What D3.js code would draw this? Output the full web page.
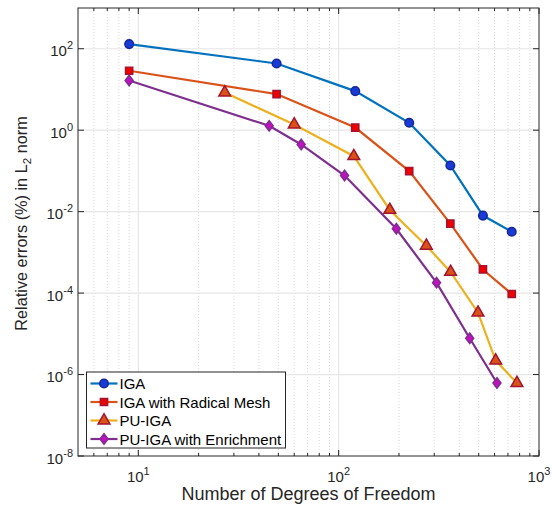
<!DOCTYPE html>
<html>
<head>
<meta charset="utf-8">
<script src="https://cdn.jsdelivr.net/npm/d3@7"></script>
<style>
  body { margin: 0; background: #fff; }
  svg { font-family: "Liberation Sans", Arial, Helvetica, sans-serif; }
</style>
</head>
<body>
<svg id="chart" width="552" height="508"></svg>
<script>
// values
var igaX = [9, 49, 121, 225, 361, 525, 731];
var igaY = [130, 43.5, 9.1, 1.52, 0.136, 0.008, 0.0032];
var radX = [9, 49, 121, 225, 361, 525, 731];
var radY = [28.8, 7.7, 1.16, 0.099, 0.0051, 3.8e-4, 9.5e-5];
var puX = [27, 60, 119, 180, 274, 362, 496, 608, 776];
var puY = [8.4, 1.38, 0.23, 0.011, 1.45e-3, 3.3e-4, 3.3e-5, 2.2e-6, 6.2e-7];
var enrX = [9, 45, 65, 107, 194, 308, 451, 617];
var enrY = [16.6, 1.28, 0.446, 0.077, 0.0038, 1.8e-4, 7.8e-6, 6.2e-7];
var xTickExp = [1, 2, 3];
var yTickExp = [2, 0, -2, -4, -6, -8];

var series = [
  {name: "IGA", xs: igaX, ys: igaY, line: "#0072BD", fill: "#1a3ad6", edge: "#14279a", shape: "circle"},
  {name: "IGA with Radical Mesh", xs: radX, ys: radY, line: "#D95319", fill: "#f00000", edge: "#A2142F", shape: "square"},
  {name: "PU-IGA", xs: puX, ys: puY, line: "#EDB120", fill: "#D95319", edge: "#A2142F", shape: "triangle"},
  {name: "PU-IGA with Enrichment", xs: enrX, ys: enrY, line: "#7E2F8E", fill: "#c010c0", edge: "#7E2F8E", shape: "diamond"}
];

var svg = d3.select("#chart");
var pL = 78, pR = 539, pT = 8, pB = 456;

var x = d3.scaleLog().domain([5, 1000]).range([pL, pR]);
var y = d3.scaleLog().domain([1e-8, 1e3]).range([pB, pT]);

// grid
var g = svg.append("g");
var minorX = [];
[1, 10, 100].forEach(function (d) {
  for (var k = 2; k <= 9; k++) { var v = d * k; if (v > 5 && v < 1000) minorX.push(v); }
});
g.selectAll("line.mx").data(minorX).enter().append("line")
  .attr("x1", d => x(d)).attr("x2", d => x(d)).attr("y1", pT).attr("y2", pB)
  .attr("stroke", "#d0d0d0").attr("stroke-width", 0.8).attr("stroke-dasharray", "1,2");
g.selectAll("line.gx").data(xTickExp.slice(0, 2)).enter().append("line")
  .attr("x1", d => x(Math.pow(10, d))).attr("x2", d => x(Math.pow(10, d)))
  .attr("y1", pT).attr("y2", pB)
  .attr("stroke", "#e6e6e6").attr("stroke-width", 1.2);
g.selectAll("line.gy").data(yTickExp.slice(0, 5)).enter().append("line")
  .attr("y1", d => y(Math.pow(10, d))).attr("y2", d => y(Math.pow(10, d)))
  .attr("x1", pL).attr("x2", pR)
  .attr("stroke", "#e6e6e6").attr("stroke-width", 1.2);

// series
var line = d3.line().x(d => x(d[0])).y(d => y(d[1]));
var wideDiamond = {
  draw: function (ctx, size) {
    var r = Math.sqrt(size) / 2;
    ctx.moveTo(0, -r * 1.3); ctx.lineTo(r, 0); ctx.lineTo(0, r * 1.3); ctx.lineTo(-r, 0); ctx.closePath();
  }
};
var symbols = {
  circle: d3.symbol().type(d3.symbolCircle).size(58),
  square: d3.symbol().type(d3.symbolSquare).size(52),
  triangle: d3.symbol().type(d3.symbolTriangle).size(60),
  diamond: d3.symbol().type(wideDiamond).size(64)
};

series.forEach(function (s) {
  var pts = s.xs.map((v, i) => [v, s.ys[i]]);
  svg.append("path").datum(pts).attr("d", line)
    .attr("fill", "none").attr("stroke", s.line).attr("stroke-width", 2.2);
  svg.selectAll(null).data(pts).enter().append("path")
    .attr("d", symbols[s.shape])
    .attr("transform", d => `translate(${x(d[0])},${y(d[1])})`)
    .attr("fill", s.fill).attr("stroke", s.edge).attr("stroke-width", 1.5);
});

// axes box and ticks
var axisColor = "#262626";
svg.append("rect").attr("x", pL).attr("y", pT).attr("width", pR - pL).attr("height", pB - pT)
  .attr("fill", "none").attr("stroke", axisColor).attr("stroke-width", 1);

svg.selectAll("line.xt").data(minorX).enter().append("line")
  .attr("x1", d => x(d)).attr("x2", d => x(d)).attr("y1", pB).attr("y2", pB - 3)
  .attr("stroke", axisColor);
svg.selectAll("line.xt2").data(minorX).enter().append("line")
  .attr("x1", d => x(d)).attr("x2", d => x(d)).attr("y1", pT).attr("y2", pT + 3)
  .attr("stroke", axisColor);
svg.selectAll("line.xM").data(xTickExp).enter().append("line")
  .attr("x1", d => x(Math.pow(10, d))).attr("x2", d => x(Math.pow(10, d))).attr("y1", pB).attr("y2", pB - 6)
  .attr("stroke", axisColor);
svg.selectAll("line.xM2").data(xTickExp).enter().append("line")
  .attr("x1", d => x(Math.pow(10, d))).attr("x2", d => x(Math.pow(10, d))).attr("y1", pT).attr("y2", pT + 6)
  .attr("stroke", axisColor);
svg.selectAll("line.yM").data(yTickExp).enter().append("line")
  .attr("y1", d => y(Math.pow(10, d))).attr("y2", d => y(Math.pow(10, d))).attr("x1", pL).attr("x2", pL + 6)
  .attr("stroke", axisColor);
svg.selectAll("line.yM2").data(yTickExp).enter().append("line")
  .attr("y1", d => y(Math.pow(10, d))).attr("y2", d => y(Math.pow(10, d))).attr("x1", pR).attr("x2", pR - 6)
  .attr("stroke", axisColor);

// tick labels
var xl = svg.selectAll("text.xl").data(xTickExp).enter().append("text")
  .attr("x", d => x(Math.pow(10, d))).attr("y", 482)
  .attr("text-anchor", "middle").attr("font-size", 15).attr("fill", axisColor);
xl.append("tspan").text("10");
xl.append("tspan").attr("dy", -7).attr("font-size", 11).text(d => d);

var yl = svg.selectAll("text.yl").data(yTickExp).enter().append("text")
  .attr("x", 73).attr("y", d => y(Math.pow(10, d)) + 7.5)
  .attr("text-anchor", "end").attr("font-size", 15).attr("fill", axisColor);
yl.append("tspan").text("10");
yl.append("tspan").attr("dy", -7).attr("font-size", 11).text(d => d);

// axis titles
svg.append("text").attr("x", 308.5).attr("y", 500).attr("text-anchor", "middle")
  .attr("font-size", 18).attr("fill", axisColor).text("Number of Degrees of Freedom");
var yt = svg.append("text").attr("transform", "translate(27,223.5) rotate(-90)")
  .attr("text-anchor", "middle").attr("font-size", 16.3).attr("fill", axisColor);
yt.append("tspan").text("Relative errors (%) in L");
yt.append("tspan").attr("dy", 4).attr("font-size", 11.5).text("2");
yt.append("tspan").attr("dy", -4).text(" norm");

// legend
var lg = svg.append("g");
lg.append("rect").attr("x", 86.5).attr("y", 372).attr("width", 199).attr("height", 76)
  .attr("fill", "#fff").attr("stroke", axisColor).attr("stroke-width", 1);
var rows = [383.5, 402, 420.5, 439];
series.forEach(function (s, i) {
  var ry = rows[i];
  lg.append("line").attr("x1", 90.5).attr("x2", 117.5).attr("y1", ry).attr("y2", ry)
    .attr("stroke", s.line).attr("stroke-width", 2.2);
  lg.append("path").attr("d", symbols[s.shape]).attr("transform", `translate(104,${ry})`)
    .attr("fill", s.fill).attr("stroke", s.edge).attr("stroke-width", 1.5);
  lg.append("text").attr("x", 119.5).attr("y", ry + 5.5).attr("font-size", 15).attr("fill", "#000").text(s.name);
});
</script>
</body>
</html>
